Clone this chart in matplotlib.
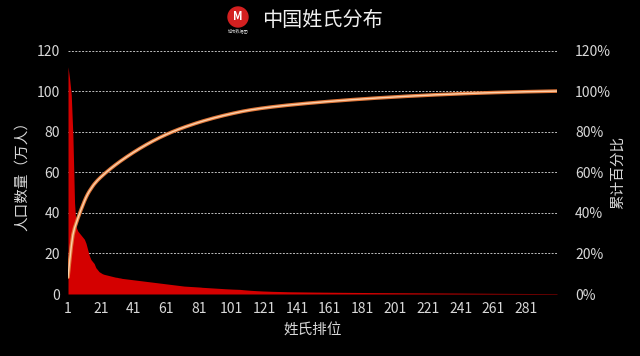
import numpy as np
import matplotlib
matplotlib.use("Agg")
import matplotlib.pyplot as plt
from matplotlib.patches import Circle

plt.rcParams['font.family'] = ['Noto Sans CJK SC', 'DejaVu Sans']

# population of each surname rank (万人)
population = [
    112, 106, 98, 78, 45, 33, 31, 30, 29, 28,
    27, 25, 22, 19, 17, 16, 15, 13, 12, 11,
    10.5, 10.0, 9.7, 9.5, 9.3, 9.1, 8.9, 8.7, 8.5, 8.3,
    8.2, 8.0, 7.9, 7.7, 7.6, 7.5, 7.4, 7.3, 7.2, 7.1,
    7.0, 6.9, 6.8, 6.7, 6.6, 6.5, 6.4, 6.3, 6.2, 6.1,
    6.0, 5.9, 5.8, 5.7, 5.6, 5.5, 5.4, 5.3, 5.2, 5.1,
    5.0, 4.9, 4.8, 4.7, 4.6, 4.5, 4.4, 4.3, 4.2, 4.1,
    4.0, 3.9, 3.85, 3.8, 3.75, 3.7, 3.65, 3.6, 3.55, 3.5,
    3.45, 3.4, 3.3, 3.25, 3.2, 3.15, 3.1, 3.05, 3.0, 2.95,
    2.9, 2.85, 2.8, 2.75, 2.7, 2.65, 2.6, 2.56, 2.52, 2.48,
    2.44, 2.4, 2.37, 2.34, 2.31, 2.28, 2.2, 2.12, 2.05, 1.98,
    1.92, 1.86, 1.8, 1.75, 1.7, 1.65, 1.61, 1.57, 1.53, 1.49,
    1.46, 1.43, 1.4, 1.37, 1.34, 1.31, 1.29, 1.27, 1.25, 1.23,
    1.21, 1.19, 1.17, 1.15, 1.13, 1.11, 1.1, 1.09, 1.08, 1.07,
    1.06, 1.05, 1.04, 1.03, 1.02, 1.01, 1.0, 0.99, 0.98, 0.97,
    0.96, 0.95, 0.94, 0.94, 0.93, 0.92, 0.91, 0.9, 0.9, 0.89,
    0.88, 0.87, 0.87, 0.86, 0.85, 0.84, 0.84, 0.83, 0.82, 0.82,
    0.81, 0.8, 0.8, 0.79, 0.78, 0.78, 0.77, 0.76, 0.76, 0.75,
    0.74, 0.74, 0.73, 0.72, 0.72, 0.71, 0.7, 0.7, 0.69, 0.69,
    0.68, 0.68, 0.67, 0.67, 0.66, 0.66, 0.65, 0.65, 0.64, 0.64,
    0.63, 0.63, 0.62, 0.62, 0.61, 0.61, 0.6, 0.6, 0.59, 0.59,
    0.58, 0.58, 0.57, 0.57, 0.56, 0.56, 0.55, 0.55, 0.54, 0.54,
    0.53, 0.53, 0.52, 0.52, 0.51, 0.51, 0.5, 0.5, 0.49, 0.49,
    0.48, 0.48, 0.47, 0.47, 0.46, 0.46, 0.45, 0.45, 0.44, 0.44,
    0.43, 0.43, 0.42, 0.42, 0.41, 0.41, 0.4, 0.4, 0.39, 0.39,
    0.38, 0.38, 0.37, 0.37, 0.36, 0.36, 0.35, 0.35, 0.34, 0.34,
    0.33, 0.33, 0.32, 0.32, 0.31, 0.31, 0.3, 0.3, 0.3, 0.29,
    0.29, 0.29, 0.28, 0.28, 0.28, 0.27, 0.27, 0.27, 0.26, 0.26,
    0.26, 0.25, 0.25, 0.25, 0.24, 0.24, 0.24, 0.23, 0.23, 0.23,
    0.22, 0.22, 0.22, 0.21, 0.21, 0.21, 0.2, 0.2, 0.2, 0.2,
]
ranks = list(range(1, len(population) + 1))
xtick_labels = [1, 21, 41, 61, 81, 101, 121, 141, 161, 181, 201, 221, 241, 261, 281]
left_ticks = [0, 20, 40, 60, 80, 100, 120]
right_ticks = [0, 20, 40, 60, 80, 100, 120]

# cumulative share of the population
cum_pct = np.cumsum(population) / np.sum(population) * 100

txt = '#d8d8d8'
fig = plt.figure(figsize=(6.4, 3.56), dpi=100, facecolor='black')
ax = fig.add_axes([68/640, 1 - 294/356, 489/640, 243.5/356])
ax.set_facecolor('black')

ax.fill_between(ranks, 0, population, color='#d40000', lw=0)
ax.set_xlim(1, len(population))
ax.set_ylim(0, 120)
ax.set_yticks(left_ticks)
ax.set_xticks(xtick_labels)
ax.set_xticklabels([str(v) for v in xtick_labels])
ax.grid(axis='y', color='#bfbfbf', lw=0.7, ls=(0, (2, 1.5)))
ax.set_axisbelow(True)
ax.tick_params(colors=txt, labelsize=10, length=0, pad=6)
for s in ax.spines.values():
    s.set_visible(False)
ax.set_xlabel('姓氏排位', color=txt, fontsize=10.5, labelpad=5)

ax2 = ax.twinx()
ax2.plot(ranks, cum_pct, color='#e0773a', lw=2.6, solid_capstyle='round')
ax2.plot(ranks, cum_pct, color='#fbd0aa', lw=1.0)
ax2.set_ylim(0, 120)
ax2.set_yticks(right_ticks)
ax2.set_yticklabels([f'{v}%' for v in right_ticks])
ax2.tick_params(colors=txt, labelsize=10, length=0, pad=13)
for s in ax2.spines.values():
    s.set_visible(False)

fig.text(22/640, 1 - 172/356, '人口数量（万人）', color=txt, fontsize=10.5,
         rotation=90, ha='center', va='center')
fig.text(618/640, 1 - 172/356, '累计百分比', color=txt, fontsize=10.5,
         rotation=90, ha='center', va='center')

# title with logo
fig.text(262/640, 1 - 21/356, '中国姓氏分布', color='#f0f0f0', fontsize=14.5,
         ha='left', va='center')
logo = Circle((238/640 * 6.4, (1 - 17/356) * 3.56), 0.1, transform=fig.dpi_scale_trans,
              color='#d42020')
fig.patches.append(logo)
fig.text(238/640, 1 - 17/356, 'M', color='white', fontsize=8, fontweight='bold',
         ha='center', va='center')
fig.text(238/640, 1 - 31/356, '城市数据团', color='#cccccc', fontsize=3,
         ha='center', va='center')

fig.savefig('out.png', dpi=100, facecolor='black')
